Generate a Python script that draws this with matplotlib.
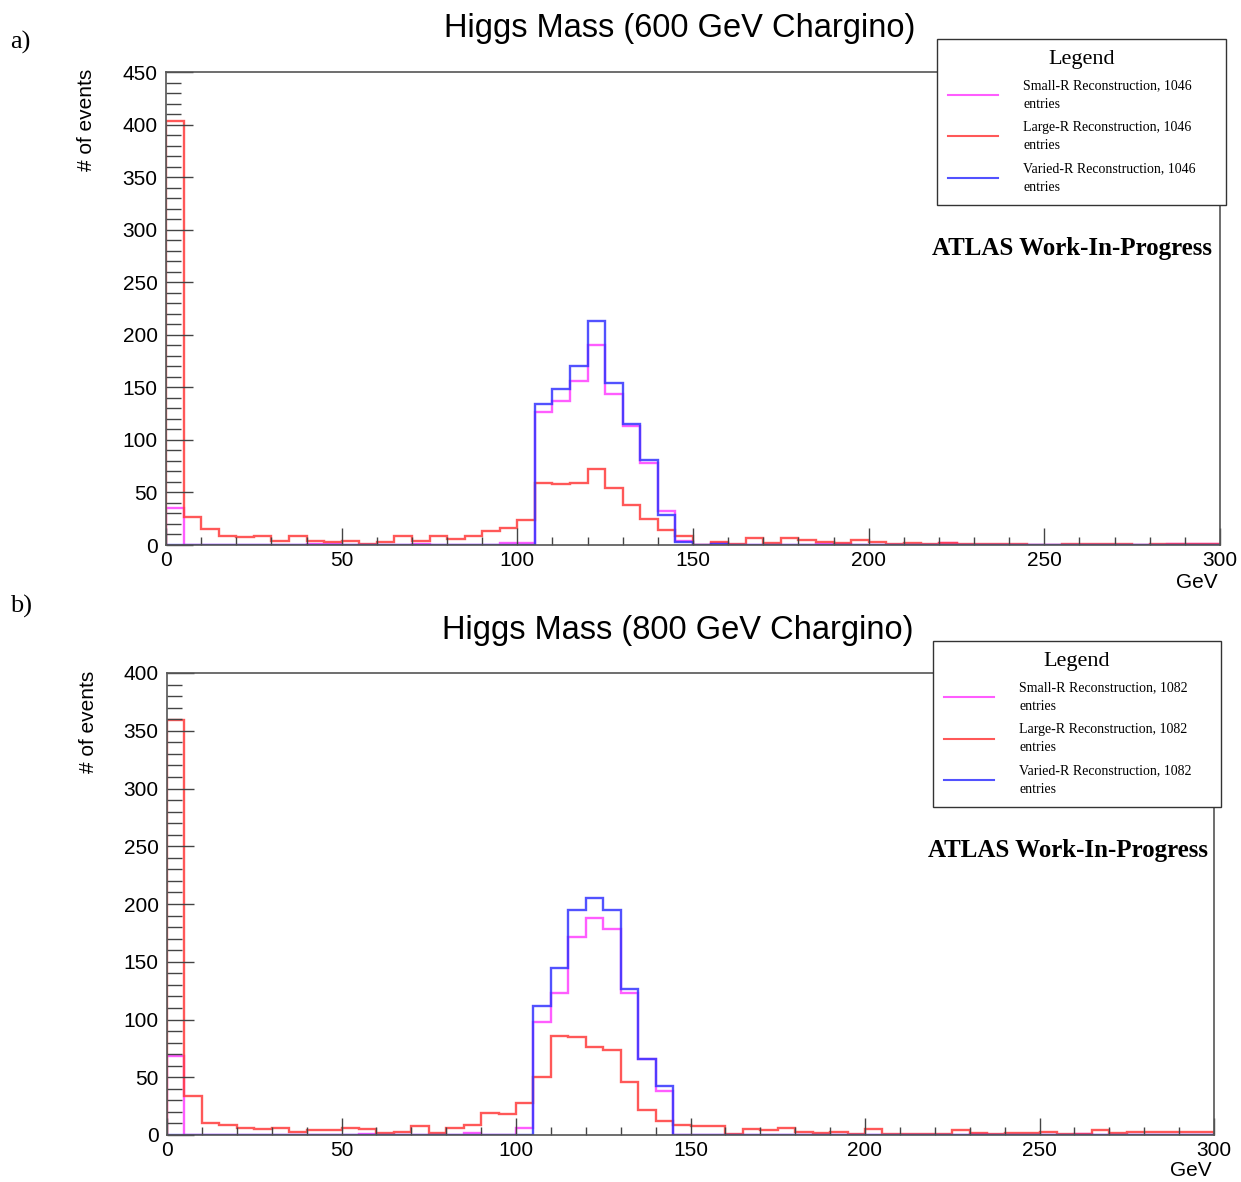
import matplotlib
matplotlib.use("Agg")
import matplotlib.pyplot as plt
import numpy as np
from matplotlib.lines import Line2D
from matplotlib.ticker import MultipleLocator

W, H = 1241, 1182

# 5 GeV bins from 0 to 300 GeV
bin_edges = np.arange(0, 305, 5)

# panel a) 600 GeV chargino
small_r_600 = [35, 0, 0, 0, 0, 0, 0, 0, 1, 1, 0, 0, 0, 0, 1, 0, 0, 0, 0, 2,
               2, 127, 137, 156, 190, 144, 113, 78, 32, 4, 0, 2, 0, 0, 0, 0, 0, 1, 1, 0,
               0, 0, 0, 0, 2, 0, 0, 0, 0, 0, 0, 0, 0, 0, 0, 0, 0, 1, 1, 1]
large_r_600 = [403, 27, 15, 9, 8, 9, 4, 9, 4, 3, 4, 1, 3, 9, 4, 9, 6, 9, 13, 16,
               24, 59, 58, 59, 72, 54, 38, 25, 14, 9, 0, 3, 1, 7, 2, 7, 5, 3, 2, 5,
               3, 1, 2, 1, 2, 1, 0.5, 1, 1, 0, 0, 1, 0.5, 1, 1, 0, 0.5, 1, 1, 1]
varied_r_600 = [0, 0, 0, 0, 0, 0, 0, 0, 0, 0, 0, 0, 0, 0, 0, 0, 0, 0, 0, 0,
                0, 134, 148, 170, 213, 154, 115, 81, 29, 3, 0, 1, 0, 0, 0, 0, 0, 0, 0, 0,
                0, 0, 0, 0, 0, 0, 0, 0, 0, 0, 0, 0, 0, 0, 0, 0, 0, 0, 0, 0]

# panel b) 800 GeV chargino
small_r_800 = [68, 0, 0, 0, 0, 0, 0, 0, 0, 0, 0, 1, 0, 0, 0, 0, 0, 2, 0, 0,
               6, 98, 123, 171, 188, 178, 123, 66, 38, 0, 0, 0, 0, 0, 0, 0, 0, 0, 0, 0,
               0, 0, 0, 0, 0, 0, 1, 0, 0, 0, 0, 0, 1, 0, 0, 0, 0, 0, 0, 0]
large_r_800 = [359, 34, 10, 9, 6, 5, 6, 3, 4, 4, 6, 5, 2, 3, 8, 2, 6, 9, 19, 18,
               28, 50, 86, 85, 76, 74, 46, 22, 12, 9, 8, 8, 1, 5, 4, 6, 3, 2, 3, 1,
               5, 1, 1, 1, 1, 4, 2, 1, 2, 2, 3, 1, 1, 4, 2, 3, 3, 3, 3, 3]
varied_r_800 = [0, 0, 0, 0, 0, 0, 0, 0, 0, 0, 0, 0, 0, 0, 0, 0, 0, 0, 0, 0,
                0, 112, 145, 195, 205, 195, 126, 66, 42, 0, 0, 0, 0, 0, 0, 0, 0, 0, 0, 0,
                0, 0, 0, 0, 0, 0, 0, 0, 0, 0, 0, 0, 0, 0, 0, 0, 0, 0, 0, 0]

series_names = ["Small-R Reconstruction", "Large-R Reconstruction", "Varied-R Reconstruction"]
series_colors = ["#ff40ff", "#ff3b3b", "#3434ff"]

SANS = "Liberation Sans"
SERIF = "Liberation Serif"


def fx(px):
    return px / W


def fy(py):
    return 1 - py / H


def draw_panel(fig, box, values, ymax, entries, title, title_xy, letter_xy, letter,
               ylabel_xy, gev_xy, legend_box, atlas_xy):
    left, top, right, bottom = box
    ax = fig.add_axes([fx(left), fy(bottom), fx(right - left), (bottom - top) / H])

    for vals, color, name in zip(values, series_colors, series_names):
        ax.stairs(vals, bin_edges, color=color, lw=1.7, alpha=0.85)

    ax.set_xlim(0, 300)
    ax.set_ylim(0, ymax)
    ax.xaxis.set_major_locator(MultipleLocator(50))
    ax.xaxis.set_minor_locator(MultipleLocator(10))
    ax.yaxis.set_major_locator(MultipleLocator(50))
    ax.yaxis.set_minor_locator(MultipleLocator(10))
    ax.tick_params(axis="x", which="major", direction="in", length=12, width=1,
                   color="#444444", labelsize=15, pad=4)
    ax.tick_params(axis="x", which="minor", direction="in", length=6, width=1, color="#444444")
    ax.tick_params(axis="y", which="major", direction="in", length=19.5, width=1,
                   color="#444444", labelsize=15, pad=6)
    ax.tick_params(axis="y", which="minor", direction="in", length=11, width=1, color="#444444")
    for lab in ax.get_xticklabels() + ax.get_yticklabels():
        lab.set_family(SANS)
    for sp in ax.spines.values():
        sp.set_color("#555555")
        sp.set_linewidth(1.2)

    fig.text(fx(title_xy[0]), fy(title_xy[1]), title, ha="center", va="center",
             fontsize=23.5, family=SANS)
    fig.text(fx(letter_xy[0]), fy(letter_xy[1]), letter, ha="left", va="center",
             fontsize=19, family=SERIF)
    fig.text(fx(ylabel_xy[0]), fy(ylabel_xy[1]), "# of events", rotation=90,
             ha="center", va="top", fontsize=15, family=SANS)
    fig.text(fx(gev_xy[0]), fy(gev_xy[1]), "GeV", ha="right", va="center",
             fontsize=15, family=SANS)
    fig.text(fx(atlas_xy[0]), fy(atlas_xy[1]), "ATLAS Work-In-Progress", ha="right",
             va="center", fontsize=18, family=SERIF, weight="bold")

    handles = [Line2D([], [], color=c, lw=1.5, alpha=0.85) for c in series_colors]
    labels = [f"{n}, {entries}\nentries" for n in series_names]
    lx0, ly0, lx1 = legend_box
    leg = ax.legend(handles, labels, loc="upper left", mode="expand",
                    bbox_to_anchor=(fx(lx0), fy(ly0) - 0.1, fx(lx1 - lx0), 0.1),
                    bbox_transform=fig.transFigure, borderaxespad=0,
                    title="Legend", prop={"family": SERIF, "size": 10},
                    title_fontproperties={"family": SERIF, "size": 16},
                    frameon=True, fancybox=False, framealpha=1,
                    edgecolor="#333333", handlelength=3.6, handletextpad=1.8,
                    borderpad=0.8, labelspacing=0.72)
    for t in leg.get_texts():
        t.set_linespacing(1.55)
    leg.get_frame().set_linewidth(1.0)
    return ax


fig = plt.figure(figsize=(W / 100, H / 100), dpi=100)

draw_panel(fig, (166, 72, 1220, 545),
           [small_r_600, large_r_600, varied_r_600], 450, 1046,
           "Higgs Mass (600 GeV Chargino)", (680, 28), (10, 42), "a)",
           (86, 69), (1218, 582), (937, 39, 1226), (1212, 249))

draw_panel(fig, (167, 673, 1214, 1135),
           [small_r_800, large_r_800, varied_r_800], 400, 1082,
           "Higgs Mass (800 GeV Chargino)", (678, 631), (10, 606), "b)",
           (89, 671), (1212, 1171), (933, 641, 1221), (1208, 850))

fig.savefig("out.png", dpi=100)
plt.close(fig)
